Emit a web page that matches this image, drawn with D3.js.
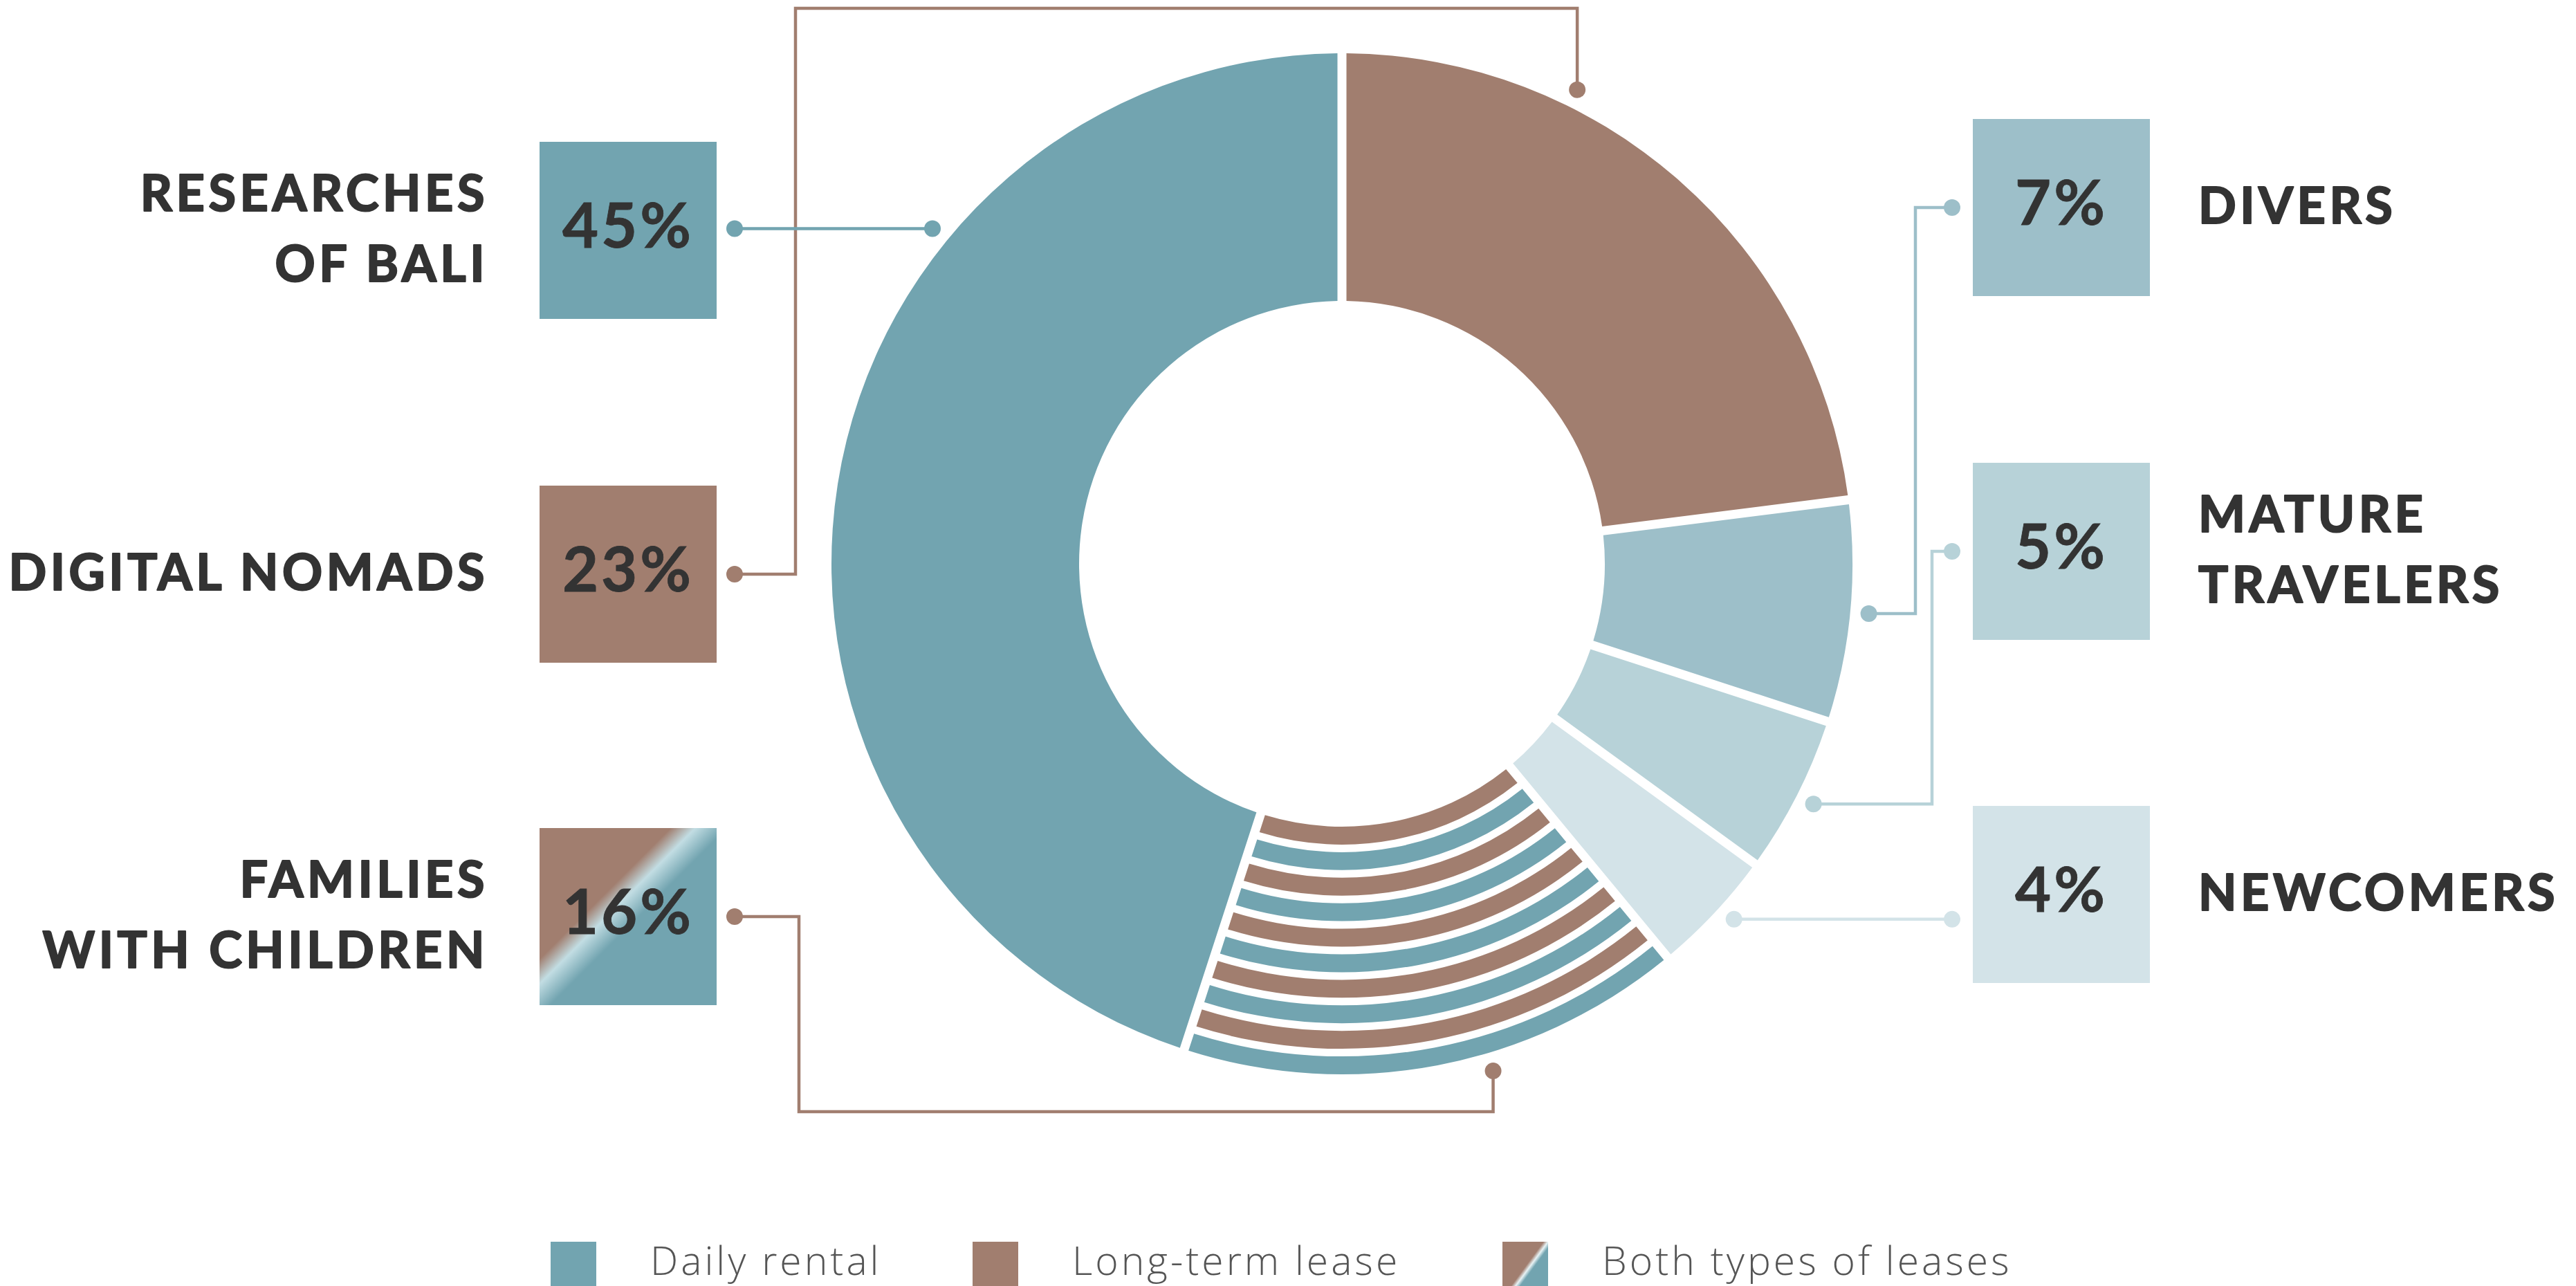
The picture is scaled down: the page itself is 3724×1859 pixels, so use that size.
<!DOCTYPE html>
<html>
<head>
<meta charset="utf-8">
<script src="https://cdn.jsdelivr.net/npm/d3@7"></script>
<style>
  html, body { margin: 0; padding: 0; background: #ffffff; }
  svg { display: block; }
</style>
</head>
<body>
<svg id="chart" width="3724" height="1859"></svg>
<script>
// ---------------- DATA ----------------
const categories = ["Digital Nomads", "Divers", "Mature Travelers", "Newcomers", "Families with Children", "Researches of Bali"];
const values = [23, 7, 5, 4, 16, 45];
const labelLines = [["DIGITAL NOMADS"], ["DIVERS"], ["MATURE", "TRAVELERS"], ["NEWCOMERS"], ["FAMILIES", "WITH CHILDREN"], ["RESEARCHES", "OF BALI"]];
const leaseTypes = ["long", "daily", "daily", "daily", "both", "daily"];
const legendLabels = ["Daily rental", "Long-term lease", "Both types of leases"];
const legendTypes = ["daily", "long", "both"];

// ---------------- STYLE / LAYOUT ----------------
const W = 3724, H = 1859;
const cx = 1940, cy = 815;
const rIn = 380, rOut = 738, rDot = 765;
const gapPx = 13;
const textColor = "#333333";
const sliceColors = ["#a17e6f", "#9dbfc9", "#b7d2d8", "#d3e3e8", null, "#72a4b0"];
const teal = "#72a4b0", brown = "#a17e6f";
const side = ["left", "right", "right", "right", "left", "left"];
const boxCY = [830, 300, 797, 1293, 1325, 333];
const anchorDeg = [26.4, 95.4, 117, 132.2, 163.4, 309.3]; // where each leader touches the ring
const boxSize = 256;
const leftBoxRight = 1036, rightBoxLeft = 2852;

const svg = d3.select("#chart");
const defs = svg.append("defs");
const grad = defs.append("linearGradient").attr("id", "both")
  .attr("x1", 0).attr("y1", 0).attr("x2", 1).attr("y2", 1);
[[0, brown], [0.37, brown], [0.44, "#c2dde3"], [0.53, teal], [1, teal]].forEach(([o, c]) =>
  grad.append("stop").attr("offset", o).attr("stop-color", c));
const grad2 = defs.append("linearGradient").attr("id", "bothLegend")
  .attr("x1", 0).attr("y1", 0).attr("x2", 1).attr("y2", 1);
[[0, brown], [0.45, brown], [0.5, "#e8f3f5"], [0.55, teal], [1, teal]].forEach(([o, c]) =>
  grad2.append("stop").attr("offset", o).attr("stop-color", c));

const fillFor = t => t === "daily" ? teal : t === "long" ? brown : "url(#both)";

// ---------------- DONUT ----------------
const pie = d3.pie().sort(null).value(d => d).startAngle(0).endAngle(2 * Math.PI);
const arcs = pie(values);
const g = svg.append("g").attr("transform", `translate(${cx},${cy})`);
const padA = gapPx / rOut;
const arc = d3.arc().innerRadius(rIn).outerRadius(rOut).padAngle(padA).padRadius(rOut);

arcs.forEach((a, i) => {
  if (leaseTypes[i] === "both") {
    const nBands = 10, bandGap = 11;
    const bandW = ((rOut - rIn) - (nBands - 1) * bandGap) / nBands;
    const bands = d3.range(nBands).map(k => ({
      r0: rIn + k * (bandW + bandGap),
      r1: rIn + k * (bandW + bandGap) + bandW,
      color: k % 2 === 0 ? brown : teal
    }));
    g.selectAll(null).data(bands).enter().append("path")
      .attr("d", b => d3.arc().innerRadius(b.r0).outerRadius(b.r1).padAngle(padA).padRadius(rOut)(a))
      .attr("fill", b => b.color);
  } else {
    g.append("path").attr("d", arc(a)).attr("fill", sliceColors[i]);
  }
});

// ---------------- BOXES, LABELS, LEADERS ----------------
const lineColors = [brown, "#9dbfc9", "#b7d2d8", "#d3e3e8", brown, teal];
const lw = 4.5, dotR = 12;

categories.forEach((c, i) => {
  const isLeft = side[i] === "left";
  const bx = isLeft ? leftBoxRight - boxSize : rightBoxLeft;
  const bcy = boxCY[i];
  const fill = leaseTypes[i] === "both" ? "url(#both)" : sliceColors[i];
  svg.append("rect").attr("x", bx).attr("y", bcy - boxSize / 2)
    .attr("width", boxSize).attr("height", boxSize).attr("fill", fill);

  svg.append("text").attr("x", bx + boxSize / 2).attr("y", bcy + 25)
    .attr("text-anchor", "middle")
    .attr("font-family", "Lato, 'Open Sans', sans-serif")
    .attr("font-weight", 700).attr("font-size", 90).attr("letter-spacing", 4)
    .attr("fill", textColor).attr("stroke", textColor).attr("stroke-width", 0.8)
    .text(values[i] + "%");

  const lines = labelLines[i];
  const lx = isLeft ? 706 : 3178;
  lines.forEach((ln, k) => {
    svg.append("text").attr("x", lx)
      .attr("y", bcy + 22.5 + (k - (lines.length - 1) / 2) * 102)
      .attr("text-anchor", isLeft ? "end" : "start")
      .attr("font-family", "Lato, 'Open Sans', sans-serif")
      .attr("font-weight", 700).attr("font-size", 72).attr("letter-spacing", 5.5)
      .attr("fill", textColor).attr("stroke", textColor).attr("stroke-width", 2.2)
      .attr("stroke-linejoin", "round")
      .text(ln);
  });

  // leader
  const th = anchorDeg[i] * Math.PI / 180;
  const ax = cx + rDot * Math.sin(th), ay = cy - rDot * Math.cos(th);
  let pts;
  const bDotX = isLeft ? leftBoxRight + 26 : rightBoxLeft - 30;
  if (i === 0) {        // digital nomads: up and over the top
    pts = [[bDotX, bcy], [1150, bcy], [1150, 12], [ax, 12], [ax, ay]];
  } else if (i === 4) { // families: down and under
    pts = [[bDotX, bcy], [1155, bcy], [1155, 1607], [ax, 1607], [ax, ay]];
  } else if (i === 1) {
    pts = [[bDotX, bcy], [2769, bcy], [2769, ay], [ax, ay]];
  } else if (i === 2) {
    pts = [[bDotX, bcy], [2793, bcy], [2793, ay], [ax, ay]];
  } else {              // straight horizontal
    pts = [[bDotX, ay], [ax, ay]];
  }
  svg.append("path").attr("d", d3.line()(pts)).attr("fill", "none")
    .attr("stroke", lineColors[i]).attr("stroke-width", lw);
  [pts[0], pts[pts.length - 1]].forEach(p =>
    svg.append("circle").attr("cx", p[0]).attr("cy", p[1]).attr("r", dotR).attr("fill", lineColors[i]));
});

// ---------------- LEGEND ----------------
const legX = [796, 1406, 2172];
legendLabels.forEach((l, i) => {
  svg.append("rect").attr("x", legX[i]).attr("y", 1795).attr("width", 66).attr("height", 90)
    .attr("fill", legendTypes[i] === "both" ? "url(#bothLegend)" : fillFor(legendTypes[i]));
  svg.append("text").attr("x", legX[i] + 144).attr("y", 1843)
    .attr("font-family", "'Open Sans', sans-serif").attr("font-weight", 300)
    .attr("font-size", 57).attr("letter-spacing", 4).attr("fill", "#555555").text(l);
});
</script>
</body>
</html>
